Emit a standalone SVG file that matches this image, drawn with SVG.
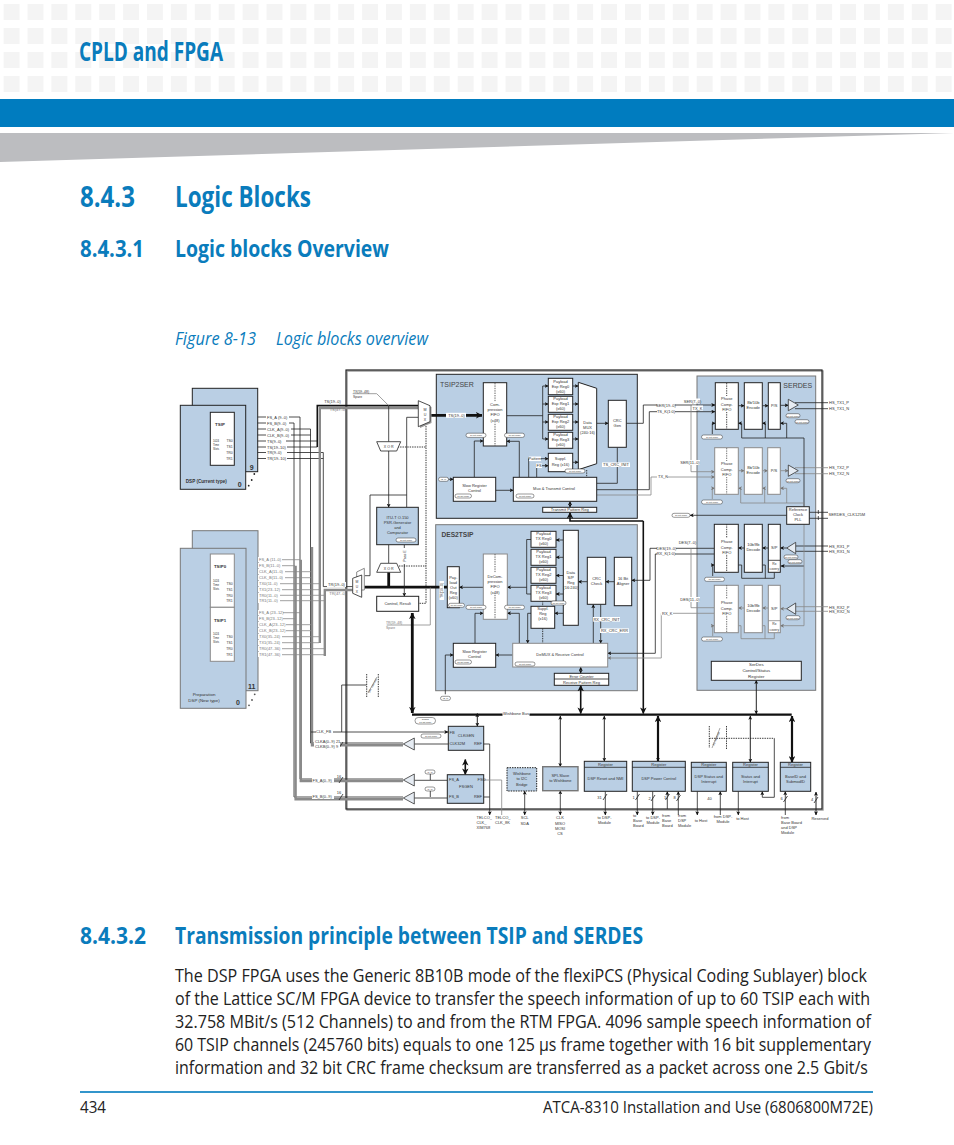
<svg xmlns="http://www.w3.org/2000/svg" width="954" height="1145" viewBox="0 0 954 1145">
<style>
text{font-family:"Liberation Sans",Arial,sans-serif;font-size:4px;fill:#333}
.c{text-anchor:middle}
.h{font-family:"Open Sans","Noto Sans",sans-serif;font-weight:700;fill:#0a7cbc}
.b{font-family:"Open Sans","Noto Sans",sans-serif;font-size:18px;fill:#222}
.i{font-family:"Open Sans","Noto Sans",sans-serif;font-style:italic;font-size:19px;fill:#0a7cbc}
.p{font-size:7px;fill:#444}
.s{font-size:2.4px}
.g{fill:#777}
.w{fill:#fff;stroke:#222;stroke-width:1}
.wg{fill:#fff;stroke:#8a8a8a;stroke-width:1}
.n{fill:#bacfe4;stroke:#222;stroke-width:1}
.ng{fill:#bacfe4;stroke:#777;stroke-width:1}
.l,.k,.m,.lg,.gb,.d,.dk{fill:none}
.l{stroke:#222;stroke-width:.8}
.m{stroke:#111;stroke-width:1.6}
.k{stroke:#111;stroke-width:2.8}
.lg{stroke:#888;stroke-width:.8}
.gb{stroke:#8a8a8a;stroke-width:2.4}
.d{stroke:#222;stroke-width:.9;stroke-dasharray:1.4 1}
.lb{fill:#fff}
.o{fill:#fff;stroke:#333;stroke-width:.5}
.tr{fill:#e6ecf3;stroke:#333;stroke-width:.8}
</style>
<defs>
<pattern id="grid" x="3.6" y="4" width="23.9" height="24" patternUnits="userSpaceOnUse"><rect width="16" height="16" fill="#f4f4f4"/></pattern>
<marker id="a" viewBox="0 0 6 6" refX="5.6" refY="3" markerWidth="4" markerHeight="4" markerUnits="userSpaceOnUse" orient="auto-start-reverse"><path d="M0 0L6 3L0 6L1.6 3z" fill="#111"/></marker>
<marker id="ag" viewBox="0 0 6 6" refX="5.6" refY="3" markerWidth="4" markerHeight="4" markerUnits="userSpaceOnUse" orient="auto-start-reverse"><path d="M0 0L6 3L0 6L1.6 3z" fill="#777"/></marker>
<marker id="A" viewBox="0 0 6 6" refX="5.6" refY="3" markerWidth="6.5" markerHeight="6.5" markerUnits="userSpaceOnUse" orient="auto-start-reverse"><path d="M0 0L6 3L0 6L1.6 3z" fill="#111"/></marker>
</defs>

<g id="page">
<rect x="0" y="4" width="954" height="88" fill="url(#grid)"/>
<text class="h" x="79" y="61" style="font-size:26px" textLength="144" lengthAdjust="spacingAndGlyphs">CPLD and FPGA</text>
<rect x="0" y="99" width="954" height="28" fill="#007cbf"/>
<polygon points="0,133 954,133 0,162" fill="#bcbdc0"/>
<text class="h" x="80" y="207" style="font-size:29px" textLength="55" lengthAdjust="spacingAndGlyphs">8.4.3</text>
<text class="h" x="175" y="207" style="font-size:29px" textLength="136" lengthAdjust="spacingAndGlyphs">Logic Blocks</text>
<text class="h" x="80" y="257" style="font-size:24px" textLength="64" lengthAdjust="spacingAndGlyphs">8.4.3.1</text>
<text class="h" x="175" y="257" style="font-size:24px" textLength="214" lengthAdjust="spacingAndGlyphs">Logic blocks Overview</text>
<text class="i" x="175" y="345" textLength="81" lengthAdjust="spacingAndGlyphs">Figure 8-13</text>
<text class="i" x="276" y="345" textLength="152" lengthAdjust="spacingAndGlyphs">Logic blocks overview</text>
<text class="h" x="80" y="944" style="font-size:24px" textLength="66" lengthAdjust="spacingAndGlyphs">8.4.3.2</text>
<text class="h" x="175" y="944" style="font-size:24px" textLength="468" lengthAdjust="spacingAndGlyphs">Transmission principle between TSIP and SERDES</text>
<text class="b" x="175" y="982" textLength="692" lengthAdjust="spacingAndGlyphs">The DSP FPGA uses the Generic 8B10B mode of the flexiPCS (Physical Coding Sublayer) block</text>
<text class="b" x="175" y="1005" textLength="695" lengthAdjust="spacingAndGlyphs">of the Lattice SC/M FPGA device to transfer the speech information of up to 60 TSIP each with</text>
<text class="b" x="175" y="1028" textLength="696" lengthAdjust="spacingAndGlyphs">32.758 MBit/s (512 Channels) to and from the RTM FPGA. 4096 sample speech information of</text>
<text class="b" x="175" y="1051" textLength="696" lengthAdjust="spacingAndGlyphs">60 TSIP channels (245760 bits) equals to one 125 µs frame together with 16 bit supplementary</text>
<text class="b" x="175" y="1074" textLength="693" lengthAdjust="spacingAndGlyphs">information and 32 bit CRC frame checksum are transferred as a packet across one 2.5 Gbit/s</text>
<rect x="80" y="1091.2" width="793" height="1.6" fill="#007cbf"/>
<text class="b" x="80" y="1113" style="font-size:16px" textLength="26" lengthAdjust="spacingAndGlyphs">434</text>
<text class="b" x="543" y="1113" style="font-size:16px" textLength="330" lengthAdjust="spacingAndGlyphs">ATCA-8310 Installation and Use (6806800M72E)</text>
</g>

<g id="frame">
<rect x="347" y="371" width="476" height="439" fill="none" stroke="#999" stroke-width="1.4"/>
<rect x="346" y="370" width="476" height="439" fill="none" stroke="#222" stroke-width="1.2"/>
</g>
<g id="panel-tsip2ser"><rect class="n" x="436.3" y="374.3" width="201" height="144"/><text class="p" x="440" y="387">TSIP2SER</text></g>
<g id="panel-des2tsip"><rect class="ng" x="435.7" y="524.7" width="201.6" height="166"/><text class="p" x="441.5" y="537" style="font-weight:700;font-size:6.6px">DES2TSIP</text></g>
<g id="panel-serdes"><rect class="ng" x="697" y="376" width="118.7" height="314.3"/><text class="p c" x="797.7" y="388">SERDES</text></g>

<g id="connectors">
<path class="l" d="M234 417H300V779H403"/>
<path class="l" d="M234 423H294V797H403"/>
<path class="l" d="M234 429H310.5V743H403"/>
<path class="l" d="M234 435H310.5"/>
<path class="l" d="M234 441H317.3M234 447H317.3"/>
<path class="l" d="M234 452.5H323.3V586.6H352.7M234 458.5H323.3"/>
<path class="m" d="M317.3 447V405.6H418"/>
<path class="gb" d="M319.8 643V408H418"/>
<path class="gb" d="M300.8 559.7V781H403"/>
<path class="gb" d="M295.6 565.7V799.3H403"/>
<path class="gb" d="M312 547V745.3H403"/>
<path class="gb" d="M324.8 656V590H352.7"/>
<path class="lg" d="M234 559.7H300M234 565.7H295M234 571.7H311M234 577.7H311M234 583.7H319M234 589.7H319M234 595.3H324M234 600.7H324M234 612.7H300M234 618.7H295M234 624.7H311M234 630.7H311M234 636.7H319M234 642.7H319M234 648.7H324M234 654.7H324"/>
<path class="l" d="M311 732H448" marker-end="url(#a)"/>
<path class="l" d="M341.7 732V685H366.5"/>
<path class="d" d="M366.7 674V697M378.3 674V697"/>
<path class="l" style="stroke-width:.4" d="M368 693L377 677"/>
<path class="l" d="M414.3 744H448.3M414.3 780.3H447.3M414.3 798H447.3"/>
<path class="l" d="M430.3 774V780M430.3 791V797"/>
<path class="l" d="M483.7 744H489.7V815" marker-end="url(#a)"/>
<path class="l" d="M483.7 797H489.7"/>
<path class="lg" d="M483.7 780H501.7V815"/>
<path class="l" d="M339 748L343 742M339 783L343 777M339 800L343 794"/>
<path class="lg" d="M352.7 393.7H376.7L388.7 405.6"/>
<path class="l" d="M388.7 405.6V441.7"/>
<path class="l" d="M388.7 451V507.3" marker-end="url(#a)"/>
<path class="l" d="M406.7 507.3V417.3H418.3"/>
<path class="l" d="M406.7 495H370V575.7H364.3"/>
<path class="d" d="M397.7 447H426M426 426V603.3H418.7M399 566H426"/>
<path class="l" d="M388.7 544.7V563.3"/>
<path class="k" d="M388.7 572.3V587"/>
<path class="k" d="M361.7 587.2H447.3"/>
<path class="l" d="M404.3 544.7V596.3" marker-end="url(#a)"/>
<path class="lg" d="M430.3 587.5V625H386.7"/>
<path class="k" d="M412.3 613V713" marker-start="url(#A)" marker-end="url(#A)"/>
<path class="k" d="M430 415.3H482" marker-end="url(#A)"/>
<path class="k" style="stroke-width:2.2" d="M412 714.7H791.7"/>
<path class="l" style="stroke-width:1" d="M477.3 713.5V726.3" marker-start="url(#a)" marker-end="url(#a)"/>
<path class="m" d="M465.3 759.5V774.5" marker-start="url(#A)" marker-end="url(#A)"/>
<path class="l" style="stroke-width:1" d="M560.3 716V766.7" marker-start="url(#a)" marker-end="url(#a)"/>
<path class="l" d="M524.7 791V815" marker-start="url(#a)" marker-end="url(#a)"/>
<path class="l" d="M560.3 790.7V815" marker-start="url(#a)" marker-end="url(#a)"/>
<path class="l" style="stroke-width:1" d="M604.3 716V761.3" marker-start="url(#a)" marker-end="url(#a)"/>
<path class="k" style="stroke-width:2.2" d="M658 716V761.3" marker-start="url(#A)" marker-end="url(#a)"/>
<path class="l" style="stroke-width:1" d="M750.3 716V762.3" marker-start="url(#a)" marker-end="url(#a)"/>
<path class="k" style="stroke-width:2.2" d="M792 716V762.3" marker-start="url(#A)" marker-end="url(#A)"/>
<path class="l" style="stroke-width:1" d="M756.3 680.3V714" marker-start="url(#a)" marker-end="url(#a)"/>
<path class="m" d="M580.7 685.3V713.5" marker-start="url(#A)" marker-end="url(#A)"/>
<path class="m" d="M643.3 521V713.5" marker-end="url(#A)"/>
<path class="m" d="M643.3 521H570V512.5" marker-end="url(#A)"/>
<path class="l" d="M570 501.3V507.3" marker-start="url(#a)" marker-end="url(#a)"/>
<path class="l" d="M580.7 667V673.3" marker-start="url(#a)" marker-end="url(#a)"/>
<path class="d" d="M709.3 738.3H774.3M709.3 726V748M726.5 726V750"/>
<path class="l" d="M774.3 738.3V797.3H762.3V791.5" marker-end="url(#a)"/>
<path class="l" style="stroke-width:.4" d="M712 748L720 728"/>
<path class="l" d="M605.3 791.3V815" marker-end="url(#a)"/>
<path class="l" d="M637.3 791.3V815" marker-end="url(#a)"/>
<path class="l" d="M652.7 791.3V815" marker-end="url(#a)"/>
<path class="l" d="M667.3 809V791.5" marker-end="url(#a)"/>
<path class="l" d="M678.3 815V791.5" marker-end="url(#a)"/>
<path class="l" d="M697.3 791.3V815" marker-end="url(#a)"/>
<path class="l" d="M720.3 815V791.5" marker-end="url(#a)"/>
<path class="l" d="M738.3 791.3V815" marker-end="url(#a)"/>
<path class="l" d="M785.3 815V791.5" marker-end="url(#a)"/>
<path class="l" style="stroke-width:1" d="M816 792V815" marker-start="url(#a)" marker-end="url(#a)"/>
<path class="l" d="M603 800L607 794M635.5 800L639.5 794M651 801L655 795M665.5 800L669.5 794M676.5 801L680.5 795M783.5 802L787.5 796M814 803L818 797"/>
<path class="l" d="M506.7 415.7H542.7M542.7 386V439"/>
<path class="l" d="M542.7 386H548.3" marker-end="url(#a)"/>
<path class="l" d="M542.7 404H548.3" marker-end="url(#a)"/>
<path class="l" d="M542.7 422H548.3" marker-end="url(#a)"/>
<path class="l" d="M542.7 439H548.3" marker-end="url(#a)"/>
<path class="l" d="M572.7 386H578.3" marker-end="url(#a)"/>
<path class="l" d="M572.7 404H578.3" marker-end="url(#a)"/>
<path class="l" d="M572.7 422H578.3" marker-end="url(#a)"/>
<path class="l" d="M572.7 439H578.3" marker-end="url(#a)"/>
<path class="l" d="M572.7 462.3H578.3" marker-end="url(#a)"/>
<path class="l" d="M596.7 423.3H608.3" marker-end="url(#a)"/>
<path class="l" d="M528.7 477.3V458.7H548.3" marker-end="url(#a)"/>
<path class="l" d="M536.7 477.3V465.7H548.3" marker-end="url(#a)"/>
<path class="l" d="M474.3 477.3V441H483.3" marker-end="url(#a)"/>
<path class="l" d="M519.3 477.3V441.3H506.7" marker-end="url(#a)"/>
<path class="l" d="M495.7 490.3H513.3" marker-end="url(#a)"/>
<path class="l" d="M445 479.3H453.3" marker-end="url(#a)"/>
<path class="d" d="M586.7 470V477.3"/>
<path class="l" d="M617.3 447.5V483.3H596.7"/>
<path class="l" d="M626.3 423.3H643.3V405H715" marker-end="url(#a)"/>
<path class="l" d="M596.7 489.7H649.3V411.7H715" marker-end="url(#a)"/>
<path class="lg" d="M596.7 495H651V477H714.7" marker-end="url(#ag)"/>
<path class="lg" d="M691 405V471.7H714.7" marker-end="url(#ag)"/>
<path class="l" d="M714.3 548.3H650V580.3H631.7" marker-end="url(#a)"/>
<path class="l" d="M714.3 554H655.3V653.3H607.7" marker-end="url(#a)"/>
<path class="lg" d="M691 548.3V607.7H714.3"/>
<path class="lg" d="M714.3 613.3H661.3V658H607.7" marker-end="url(#ag)"/>
<path class="l" d="M614.3 581.7H605.7" marker-end="url(#a)"/>
<path class="l" d="M587.3 581.7H578.3" marker-end="url(#a)"/>
<path class="l" d="M563.3 540H556" marker-end="url(#a)"/>
<path class="l" d="M563.3 557.3H556" marker-end="url(#a)"/>
<path class="l" d="M563.3 575.5H556" marker-end="url(#a)"/>
<path class="l" d="M563.3 594H556" marker-end="url(#a)"/>
<path class="l" d="M531 539.5H526.7V594H531"/>
<path class="l" d="M526.7 587.3H507.3" marker-end="url(#a)"/>
<path class="l" d="M483.3 587.3H459.3" marker-end="url(#a)"/>
<path class="l" d="M563.3 613.3H554.7" marker-end="url(#a)"/>
<path class="l" d="M531 613.3H527.7V643.3" marker-end="url(#a)"/>
<path class="d" d="M542.7 601V606.3M542.7 628.3V643.3"/>
<path class="l" d="M512.7 655H495.7" marker-end="url(#a)"/>
<path class="l" d="M445.3 694.3V655H453.3" marker-end="url(#a)"/>
<path class="l" d="M475 643.3V613.3H483.3" marker-end="url(#a)"/>
<path class="l" d="M519.3 643.3V613.3H507.3" marker-end="url(#a)"/>
<path class="l" d="M593.3 643.3V604.5" marker-end="url(#a)"/>
<path class="l" d="M600.7 604.3V643.3" marker-end="url(#a)"/>
<path class="l" d="M738.3 405.7H744.3" marker-end="url(#a)"/>
<path class="l" d="M762.3 405.7H768.3" marker-end="url(#a)"/>
<path class="l" d="M780.3 405.3H788.3" marker-end="url(#a)"/>
<path class="lg" d="M738.3 470.7H744.3" marker-end="url(#ag)"/>
<path class="lg" d="M762.3 470.7H767.7" marker-end="url(#ag)"/>
<path class="lg" d="M780.3 470.7H788.3" marker-end="url(#ag)"/>
<path class="l" d="M795 402.7H828M795 408.7H828"/>
<path class="lg" d="M795 467.7H828M795 473.7H828"/>
<path class="l" d="M712.3 434V423.3H715.3" marker-end="url(#a)"/>
<path class="l" d="M804 506.7V438H741.7V423.3H738.3" marker-end="url(#a)"/>
<path class="l" d="M765.3 438V423.3H762.3" marker-end="url(#a)"/>
<path class="l" d="M786.7 438V423.3H780.3" marker-end="url(#a)"/>
<path class="lg" d="M712.3 499V488.3H714.7" marker-end="url(#ag)"/>
<path class="lg" d="M804 506.7V503H740.7V488.3H738.3" marker-end="url(#ag)"/>
<path class="lg" d="M764.7 503V488.3H762.3" marker-end="url(#ag)"/>
<path class="lg" d="M786.7 503V488.3H780.3" marker-end="url(#ag)"/>
<path class="l" d="M786.7 515.3H690" marker-end="url(#a)"/>
<path class="l" d="M809.3 512.3H828M809.3 518.3H828M818.3 510V514M818.3 516V520"/>
<path class="l" d="M795.7 546H828M795.7 551.3H828"/>
<path class="lg" d="M795.7 606.7H828M795.7 611.3H828"/>
<path class="l" d="M786.7 548H780.3" marker-end="url(#a)"/>
<path class="l" d="M768.3 548H762.3" marker-end="url(#a)"/>
<path class="l" d="M744.3 548H738.3" marker-end="url(#a)"/>
<path class="lg" d="M786.7 608.7H780.3" marker-end="url(#ag)"/>
<path class="lg" d="M768.3 608H762.3" marker-end="url(#ag)"/>
<path class="lg" d="M744.3 608H738.3" marker-end="url(#ag)"/>
<path class="l" d="M712.7 576V565H714.3" marker-end="url(#a)"/>
<path class="l" d="M738.3 565H741.7V578.3H774.3V572.3M762.3 565H765.3V578.3"/>
<path class="l" d="M804 566H781" marker-end="url(#a)"/>
<path class="lg" d="M804 524.3V625.7H780.3" marker-end="url(#ag)"/>
<path class="lg" d="M712.7 636V625.7H714.3" marker-end="url(#ag)"/>
<path class="lg" d="M738.3 625.7H741V638.7H774.3V632.7M762.3 625.7H765V638.7"/>
</g>

<g id="dsp-current">
<rect class="n" x="192.3" y="388.3" width="65.4" height="83.4"/>
<rect class="n" x="180.3" y="405.3" width="65.4" height="84"/>
<rect class="w" x="210.3" y="412.3" width="24" height="53"/>
<text class="c" x="220" y="425.5" style="font-weight:700;font-size:4.4px">TSIP</text>
<text class="c" x="216" y="441.5" style="font-size:2.8px">1024</text><text class="c" x="216" y="445.5" style="font-size:2.8px">Time</text><text class="c" x="216" y="449.5" style="font-size:2.8px">Slots</text>
<text class="c" x="229.5" y="442" style="font-size:3.4px">TS0</text><text class="c" x="229.5" y="448" style="font-size:3.4px">TS1</text><text class="c" x="229.5" y="453.7" style="font-size:3.4px">TR0</text><text class="c" x="229.5" y="460" style="font-size:3.4px">TR1</text>
<text class="c" x="206.3" y="482.5" style="font-weight:700;font-size:4.6px">DSP (Current type)</text>
<text class="c" x="251.7" y="469.5" style="font-weight:700;font-size:7px">9</text>
<text class="c" x="239.7" y="487" style="font-weight:700;font-size:7px">0</text>
<circle cx="254.3" cy="474" r=".9" fill="#222"/><circle cx="251.7" cy="480" r=".9" fill="#222"/><circle cx="248.7" cy="485.7" r=".9" fill="#222"/>
</g>
<g id="dsp-preparation">
<rect class="ng" x="192.3" y="530.7" width="65.7" height="160"/>
<rect class="ng" x="180.3" y="548.3" width="65.7" height="160"/>
<rect class="wg" x="210.3" y="554" width="24" height="53.3"/>
<rect class="wg" x="210.3" y="607.3" width="24" height="54"/>
<text class="c" x="220" y="568" style="font-weight:700;font-size:4.4px">TSIP0</text>
<text class="c" x="220" y="622" style="font-weight:700;font-size:4.4px">TSIP1</text>
<text class="c" x="216" y="581.5" style="font-size:2.8px">1024</text><text class="c" x="216" y="585.5" style="font-size:2.8px">Time</text><text class="c" x="216" y="589.5" style="font-size:2.8px">Slots</text>
<text class="c" x="216" y="635" style="font-size:2.8px">1024</text><text class="c" x="216" y="639" style="font-size:2.8px">Time</text><text class="c" x="216" y="643" style="font-size:2.8px">Slots</text>
<text class="c" x="229.5" y="584.8" style="font-size:3.4px">TS0</text><text class="c" x="229.5" y="590.8" style="font-size:3.4px">TS1</text><text class="c" x="229.5" y="596.5" style="font-size:3.4px">TR0</text><text class="c" x="229.5" y="601.8" style="font-size:3.4px">TR1</text>
<text class="c" x="229.5" y="637.8" style="font-size:3.4px">TS0</text><text class="c" x="229.5" y="643.8" style="font-size:3.4px">TS1</text><text class="c" x="229.5" y="649.8" style="font-size:3.4px">TR0</text><text class="c" x="229.5" y="655.8" style="font-size:3.4px">TR1</text>
<text class="c" x="204" y="695.5" style="font-size:4.4px">Preparation</text>
<text class="c" x="204" y="701.5" style="font-size:4.4px">DSP (New type)</text>
<text class="c" x="251.7" y="688.5" style="font-weight:700;font-size:7px">11</text>
<text class="c" x="238" y="704.5" style="font-weight:700;font-size:7px">0</text>
<circle cx="254.7" cy="694.3" r=".9" fill="#555"/><circle cx="252" cy="700" r=".9" fill="#555"/><circle cx="249" cy="705.3" r=".9" fill="#555"/>
</g>

<g id="mux-top">
<polygon points="420,402 431.5,407 431.5,423 420,428" fill="#999"/>
<polygon class="w" style="stroke-width:.8" points="418.3,400.7 430,405.7 430,421.7 418.3,426.7"/>
<text class="c" x="425" y="410.5" style="font-size:3.6px">M</text><text class="c" x="425" y="415.5" style="font-size:3.6px">U</text><text class="c" x="425" y="420.5" style="font-size:3.6px">X</text>
</g>
<g id="mux-bottom">
<polygon class="wg" points="356.7,572 364.3,568.3 364.3,590 356.7,590"/>
<polygon class="w" style="stroke-width:.8" points="352.7,578.3 361.7,575 361.7,597.3 352.7,593.3"/>
<text class="c" x="357" y="582.5" style="font-size:3.4px">M</text><text class="c" x="357" y="587.5" style="font-size:3.4px">U</text><text class="c" x="357" y="592.5" style="font-size:3.4px">X</text>
</g>
<g id="xor-top"><polygon class="w" style="stroke-width:.8" points="376.7,441.7 400.7,441.7 396.7,451 380.7,451"/><text class="c" x="388.7" y="448" style="font-size:3.6px">X O R</text></g>
<g id="xor-bottom"><polygon class="w" style="stroke-width:.8" points="380.7,563.3 396.7,563.3 400.7,572.3 376.7,572.3"/><text class="c" x="388.7" y="570" style="font-size:3.6px">X O R</text></g>
<g id="itu">
<rect class="n" x="376.7" y="507.3" width="41.6" height="37.4"/>
<text class="c" x="397.5" y="518.5">ITU-T O.150</text><text class="c" x="397.5" y="523.5">PSR-Generator</text><text class="c" x="397.5" y="529">and</text><text class="c" x="397.5" y="534">Comparator</text>
<rect class="o" x="396" y="538" width="20" height="4" rx="2"/><text class="c s" x="406" y="540.8">16 bit Wide</text>
</g>
<g id="control-result"><rect class="w" x="376.7" y="596.3" width="42" height="15"/><text class="c" x="397.7" y="604.5">Control, Result</text></g>

<g id="fifo-comp">
<rect class="w" x="483.3" y="382.7" width="23.4" height="63.3"/>
<path class="d" d="M495 383V446" style="stroke:#555"/>
<rect class="lb" x="486" y="401.5" width="18" height="21"/>
<text class="c" x="495" y="405.5">Com-</text><text class="c" x="495" y="410.8">pression</text><text class="c" x="495" y="416.2">FIFO</text><text class="c" x="495" y="421.5">(x48)</text>
</g>
<g id="payload-exp">
<rect class="w" x="548.3" y="378.3" width="24.4" height="16.4"/><text class="c" x="560.5" y="382.5">Payload</text><text class="c" x="560.5" y="387.5">Exp Reg0</text><text class="c" x="560.5" y="392.5">(x60)</text>
<rect class="w" x="548.3" y="396.3" width="24.4" height="16"/><text class="c" x="560.5" y="400.3">Payload</text><text class="c" x="560.5" y="405.3">Exp Reg1</text><text class="c" x="560.5" y="410.3">(x60)</text>
<rect class="w" x="548.3" y="414.3" width="24.4" height="16"/><text class="c" x="560.5" y="418.3">Payload</text><text class="c" x="560.5" y="423.3">Exp Reg2</text><text class="c" x="560.5" y="428.3">(x60)</text>
<rect class="w" x="548.3" y="432.3" width="24.4" height="16"/><text class="c" x="560.5" y="436.3">Payload</text><text class="c" x="560.5" y="441.3">Exp Reg3</text><text class="c" x="560.5" y="446.3">(x60)</text>
</g>
<g id="suppl-tx"><rect class="w" x="548.3" y="453.3" width="24.4" height="18.4"/><text class="c" x="560.5" y="460">Suppl.</text><text class="c" x="560.5" y="465.5">Reg (x16)</text></g>
<g id="data-mux"><polygon class="w" points="578.3,382.3 596.7,388.3 596.7,463.7 578.3,469.7"/><text class="c" x="587.5" y="424">Data</text><text class="c" x="587.5" y="429">MUX</text><text class="c" x="587.5" y="434">(240:16)</text></g>
<g id="crc-gen"><rect class="w" x="608.3" y="400.3" width="18" height="47"/><text class="c" x="617.3" y="422">CRC</text><text class="c" x="617.3" y="427">Gen</text></g>
<g id="slow-tx"><rect class="w" x="453.3" y="477.3" width="42.4" height="24"/><text class="c" x="474.5" y="486.5">Slow Register</text><text class="c" x="474.5" y="492">Control</text></g>
<g id="mux-transmit"><rect class="w" x="513.3" y="477.3" width="83.4" height="24"/><text class="c" x="554" y="489.5">Mux &amp; Transmit Control</text></g>
<g id="tx-pattern"><rect class="w" x="542.7" y="507.3" width="54" height="5"/><text class="c" x="569.7" y="511.3">Transmit Pattern Reg</text></g>

<g id="fifo-decomp">
<rect class="wg" x="483.3" y="554" width="24" height="65.3"/>
<path class="d" d="M495 554V619" style="stroke:#555"/>
<rect class="lb" x="486" y="572.5" width="18" height="21"/>
<text class="c" x="495" y="578">DeCom-</text><text class="c" x="495" y="583">pression</text><text class="c" x="495" y="588">FIFO</text><text class="c" x="495" y="593.5">(x48)</text>
</g>
<g id="payload-out"><rect class="w" x="447.3" y="566.7" width="12" height="41"/><text class="c" x="453.3" y="578.5">Pay-</text><text class="c" x="453.3" y="583.5">load</text><text class="c" x="453.3" y="588.5">Out</text><text class="c" x="453.3" y="593.8">Reg</text><text class="c" x="453.3" y="598.8">(x60)</text></g>
<g id="payload-tx">
<rect class="w" x="531" y="531.3" width="25" height="16"/><text class="c" x="543.5" y="535">Payload</text><text class="c" x="543.5" y="540">TX Reg0</text><text class="c" x="543.5" y="545">(x60)</text>
<rect class="w" x="531" y="549.3" width="25" height="16"/><text class="c" x="543.5" y="553">Payload</text><text class="c" x="543.5" y="558">TX Reg1</text><text class="c" x="543.5" y="563">(x60)</text>
<rect class="w" x="531" y="567.3" width="25" height="16"/><text class="c" x="543.5" y="571">Payload</text><text class="c" x="543.5" y="576">TX Reg2</text><text class="c" x="543.5" y="581">(x60)</text>
<rect class="w" x="531" y="585.3" width="25" height="16"/><text class="c" x="543.5" y="589">Payload</text><text class="c" x="543.5" y="594">TX Reg3</text><text class="c" x="543.5" y="599">(x60)</text>
</g>
<g id="suppl-rx"><rect class="w" x="531" y="606.3" width="23.7" height="22"/><text class="c" x="542.8" y="609.5">Suppl.</text><text class="c" x="542.8" y="614.5">Reg</text><text class="c" x="542.8" y="619.5">(x16)</text></g>
<g id="data-sp"><rect class="w" x="563.3" y="530.3" width="15" height="95"/><text class="c" x="570.8" y="573.5">Data</text><text class="c" x="570.8" y="578.5">S/P</text><text class="c" x="570.8" y="583.5">Reg</text><text class="c" x="570.8" y="588.5">(16:240)</text></g>
<g id="crc-check"><rect class="w" x="587.3" y="557.3" width="18.4" height="47"/><text class="c" x="596.5" y="579.5">CRC</text><text class="c" x="596.5" y="584.5">Check</text></g>
<g id="aligner"><rect class="w" x="614.3" y="557.3" width="17.4" height="48.4"/><text class="c" x="623" y="579.5">16 Bit</text><text class="c" x="623" y="584.5">Aligner</text></g>
<g id="slow-rx"><rect class="w" x="453.3" y="643.3" width="42.4" height="24"/><text class="c" x="474.5" y="653">Slow Register</text><text class="c" x="474.5" y="658">Control</text></g>
<g id="demux"><rect class="wg" x="512.7" y="643.3" width="95" height="23.7"/><text class="c" x="560" y="655.5">DeMUX &amp; Receive Control</text></g>
<g id="error-counter"><rect class="w" x="554.3" y="673.3" width="54.4" height="12"/><path class="l" d="M554.3 679H608.7"/><text class="c" x="581.5" y="677.8">Error Counter</text><text class="c" x="581.5" y="683.7">Receive Pattern Reg</text></g>

<g id="fifo-1"><rect class="w" x="715.3" y="382.7" width="23" height="46.6"/><path class="d" d="M726.7 383V429" style="stroke:#333"/><rect class="lb" x="718" y="396" width="18" height="16"/><text class="c" x="726.7" y="400">Phase</text><text class="c" x="726.7" y="405.5">Comp.</text><text class="c" x="726.7" y="411">FIFO</text></g>
<g id="enc-1"><rect class="w" x="744.3" y="382.7" width="18" height="46.6"/><text class="c" x="753.3" y="403.5">8b/10b</text><text class="c" x="753.3" y="408.5">Encode</text></g>
<g id="ps-1"><rect class="w" x="768.3" y="382.7" width="12" height="46.6"/><text class="c" x="774.3" y="406.5">P/S</text></g>
<g id="drv-1"><polygon class="tr" points="788.3,399.3 798.3,405 788.3,410.7"/></g>
<g id="fifo-2"><rect class="wg" x="714.7" y="447.7" width="23.6" height="46.6"/><path class="d" d="M726.7 448V494" style="stroke:#666"/><rect class="lb" x="718" y="461" width="18" height="16"/><text class="c" x="726.7" y="465">Phase</text><text class="c" x="726.7" y="470.5">Comp.</text><text class="c" x="726.7" y="476">FIFO</text></g>
<g id="enc-2"><rect class="wg" x="744.3" y="447.7" width="18" height="46.6"/><text class="c" x="753.3" y="468.5">8b/10b</text><text class="c" x="753.3" y="473.5">Encode</text></g>
<g id="ps-2"><rect class="wg" x="767.7" y="447.7" width="12.6" height="46.6"/><text class="c" x="774" y="471.5">P/S</text></g>
<g id="drv-2"><polygon class="tr" points="788.3,465 798.3,470.7 788.3,476.3"/></g>
<g id="pll"><rect class="w" x="786.7" y="506.7" width="22.6" height="17.6"/><text class="c" x="798" y="511">Reference</text><text class="c" x="798" y="516">Clock</text><text class="c" x="798" y="521">PLL</text></g>
<g id="fifo-3"><rect class="w" x="714.3" y="524.3" width="24" height="48"/><path class="d" d="M726.7 524V572" style="stroke:#333"/><rect class="lb" x="718" y="538" width="18" height="16"/><text class="c" x="726.7" y="543">Phase</text><text class="c" x="726.7" y="548.5">Comp.</text><text class="c" x="726.7" y="554">FIFO</text></g>
<g id="dec-3"><rect class="w" x="744.3" y="524.3" width="18" height="48"/><text class="c" x="753.3" y="546">10b/8b</text><text class="c" x="753.3" y="551">Decode</text></g>
<g id="sp-3"><rect class="w" x="768.3" y="524.3" width="12" height="48"/><path class="l" d="M768.3 560.3H780.3"/><text class="c" x="774.3" y="548.8">S/P</text><text class="c" x="774.3" y="564.5" style="font-size:3.4px">Rx</text><text class="c" x="774.3" y="570.3" style="font-size:3.2px">covery</text></g>
<g id="rcv-3"><polygon class="tr" points="786.7,548 795.7,542.3 795.7,553.7"/></g>
<g id="fifo-4"><rect class="wg" x="714.3" y="585.3" width="24" height="47.4"/><path class="d" d="M726.7 585V632" style="stroke:#666"/><rect class="lb" x="718" y="599" width="18" height="16"/><text class="c" x="726.7" y="604">Phase</text><text class="c" x="726.7" y="609.5">Comp.</text><text class="c" x="726.7" y="615">FIFO</text></g>
<g id="dec-4"><rect class="wg" x="744.3" y="585.3" width="18" height="47.4"/><text class="c" x="753.3" y="606.5">10b/8b</text><text class="c" x="753.3" y="611.5">Decode</text></g>
<g id="sp-4"><rect class="wg" x="768.3" y="585.3" width="12" height="47.4"/><path class="lg" d="M768.3 620.7H780.3"/><text class="c" x="774.3" y="609.8">S/P</text><text class="c" x="774.3" y="625" style="font-size:3.4px">Rx</text><text class="c" x="774.3" y="630.5" style="font-size:3.2px">covery</text></g>
<g id="rcv-4"><polygon class="tr" points="786.7,608.7 795.7,603 795.7,614.3"/></g>
<g id="serdes-ctl"><rect class="w" x="711.3" y="661.3" width="90" height="19"/><text class="c" x="756.3" y="665.5" style="font-size:4.4px">SerDes</text><text class="c" x="756.3" y="671.5" style="font-size:4.4px">Control/Status</text><text class="c" x="756.3" y="677.5" style="font-size:4.4px">Register</text></g>

<g id="clkgen"><rect class="n" x="448.3" y="726.3" width="35.4" height="24"/><text x="449.5" y="733.5">FB</text><text class="c" x="466" y="737">CLKGEN</text><text x="449.5" y="745">CLK32M</text><text x="474" y="745">REF</text></g>
<g id="fsgen"><rect class="n" x="447.3" y="774.7" width="36.4" height="28.6"/><text x="449" y="781">FS_A</text><text class="c" x="466" y="787.5">FSGEN</text><text x="449" y="798">FS_B</text><text x="477.5" y="781">FSO</text><text x="474" y="798">REF</text></g>
<g id="buf-clk"><polygon class="tr" points="403.3,744 414.3,738 414.3,750"/></g>
<g id="buf-fsa"><polygon class="tr" points="403.3,780 414.3,774 414.3,786"/></g>
<g id="buf-fsb"><polygon class="tr" points="403.3,798 414.3,792 414.3,804"/></g>
<g id="i2c"><rect class="n" x="507" y="767.7" width="29.7" height="23.3" style="stroke-dasharray:1.5 1"/><text class="c" x="521.8" y="775">Wishbone</text><text class="c" x="521.8" y="780">to I2C</text><text class="c" x="521.8" y="785.5">Bridge</text></g>
<g id="spi"><rect class="ng" x="542.7" y="766.7" width="35.3" height="24" style="stroke-width:1.4"/><text class="c" x="560.3" y="776.5">SPI-Slave</text><text class="c" x="560.3" y="782">to Wishbone</text></g>
<g id="reg-reset"><rect class="n" x="584.3" y="761.3" width="42.4" height="30"/><path class="l" d="M584.3 767.3H626.7"/><text class="c" x="605.5" y="765.5">Register</text><text class="c" x="605.5" y="779.7">DSP Reset and NMI</text></g>
<g id="reg-power"><rect class="n" x="632.3" y="761.3" width="53" height="30"/><path class="l" d="M632.3 767.3H685.3"/><text class="c" x="658.8" y="765.5">Register</text><text class="c" x="658.8" y="779.7">DSP Power Control</text></g>
<g id="reg-status"><rect class="n" x="691.3" y="762.3" width="35" height="29"/><path class="l" d="M691.3 767.3H726.3"/><text class="c" x="708.8" y="766">Register</text><text class="c" x="708.8" y="777.7">DSP Status and</text><text class="c" x="708.8" y="782.7">Interrupt</text></g>
<g id="reg-int"><rect class="n" x="732.7" y="762.3" width="35.6" height="29"/><path class="l" d="M732.7 767.3H768.3"/><text class="c" x="750.5" y="766">Register</text><text class="c" x="750.5" y="777.7">Status and</text><text class="c" x="750.5" y="782.7">Interrupt</text></g>
<g id="reg-base"><rect class="n" x="780.3" y="762.3" width="30.4" height="29"/><path class="l" d="M780.3 767.3H810.7"/><text class="c" x="795.5" y="766">Register</text><text class="c" x="795.5" y="777.7">BaseID and</text><text class="c" x="795.5" y="782.7">SubmodID</text></g>

<g id="labels">
<g fill="#fff">
<rect x="266" y="414.5" width="23" height="5"/><rect x="266" y="420.5" width="23" height="5"/><rect x="266" y="426.5" width="25" height="5"/><rect x="266" y="432.5" width="25" height="5"/><rect x="266" y="438.5" width="20" height="5"/><rect x="266" y="444.5" width="21" height="5"/><rect x="266" y="450" width="21" height="5"/><rect x="266" y="456" width="21" height="5"/>
<rect x="258" y="557" width="24" height="5"/><rect x="258" y="563" width="24" height="5"/><rect x="258" y="569" width="27" height="5"/><rect x="258" y="575" width="27" height="5"/><rect x="258" y="581" width="22" height="5"/><rect x="258" y="587" width="24" height="5"/><rect x="258" y="593" width="22" height="5"/><rect x="258" y="598" width="22" height="5"/>
<rect x="258" y="610" width="25" height="5"/><rect x="258" y="616" width="25" height="5"/><rect x="258" y="622" width="28" height="5"/><rect x="258" y="628" width="28" height="5"/><rect x="258" y="634" width="24" height="5"/><rect x="258" y="640" width="24" height="5"/><rect x="258" y="646" width="24" height="5"/><rect x="258" y="652" width="24" height="5"/>
<rect x="327" y="582" width="19" height="5"/><rect x="312" y="777.5" width="22" height="5"/><rect x="312" y="794" width="22" height="5"/><rect x="316" y="729.5" width="17" height="5"/><rect x="314" y="739" width="26" height="9"/>
<rect x="446" y="412.8" width="20" height="5"/><rect x="529" y="456.5" width="12" height="4.6"/><rect x="536" y="463.4" width="6" height="4.6"/><rect x="602" y="462.4" width="28" height="4.6"/>
<rect x="657" y="402.5" width="18" height="5"/><rect x="657" y="409" width="18" height="5"/><rect x="657" y="474.5" width="10" height="5"/><rect x="657" y="545.5" width="19" height="5"/><rect x="657" y="551" width="18" height="5"/><rect x="661" y="610.3" width="12" height="5"/>
<rect x="685" y="398.5" width="15" height="5"/><rect x="692" y="405.5" width="11" height="5"/><rect x="680" y="460" width="20" height="5"/><rect x="680" y="539.5" width="15" height="5"/><rect x="680" y="597" width="20" height="5"/>
<rect x="593" y="617" width="27" height="4.6"/><rect x="600" y="628.4" width="29" height="4.6"/>
<rect x="439.5" y="581" width="4.5" height="19"/><rect x="402" y="548" width="5" height="16"/><rect x="502.5" y="711" width="27" height="5.5"/>
</g>
<text x="267" y="418.5">FS_A (9..0)</text><text x="267" y="424.5">FS_B(9..0)</text><text x="267" y="430.5">CLK_A(9..0)</text><text x="267" y="436.5">CLK_B(9..0)</text><text x="267" y="442.5">TS(9..0)</text><text x="267" y="448.5">TS(19..10)</text><text x="267" y="454">TR(9..0)</text><text x="267" y="460">TR(19..10)</text>
<text class="g" x="259" y="561">FS_A (11..0)</text><text class="g" x="259" y="567">FS_B(11..0)</text><text class="g" x="259" y="573">CLK_A(11..0)</text><text class="g" x="259" y="579">CLK_B(11..0)</text><text class="g" x="259" y="585">TX0(11..0)</text><text class="g" x="259" y="591">TX1(23..12)</text><text class="g" x="259" y="597">TR0(11..0)</text><text class="g" x="259" y="602">TR1(11..0)</text>
<text class="g" x="259" y="614">FS_A (23..12)</text><text class="g" x="259" y="620">FS_B(23..12)</text><text class="g" x="259" y="626">CLK_A(23..12)</text><text class="g" x="259" y="632">CLK_B(23..12)</text><text class="g" x="259" y="638">TX0(35..24)</text><text class="g" x="259" y="644">TX1(35..24)</text><text class="g" x="259" y="650">TR0(47..36)</text><text class="g" x="259" y="656">TR1(47..36)</text>
<text class="c" x="332.5" y="402.5">TS(19..0)</text><text class="c g" x="338" y="410.5">TS(47..0)</text>
<text x="353" y="392.5" style="font-size:3.4px">TX(59..48)</text><text x="353" y="397.5" style="font-size:3.4px">Spare</text>
<text class="c" x="336.5" y="586">TR(19..0)</text><text class="c g" x="337.7" y="595">TR(47..0)</text>
<text x="386" y="623.5" class="g" style="font-size:3.4px">TR(59..48)</text><text x="386" y="628.5" class="g" style="font-size:3.4px">Spare</text>
<text class="c" transform="translate(405.7 556) rotate(-90)" style="font-size:3.6px">Pass E</text>
<text class="c" transform="translate(443 590.5) rotate(-90)" style="font-size:3.6px">TR(19..0)</text>
<text class="c" transform="translate(373.5 686) rotate(-62)" style="font-size:2.8px">SPI Interrupt</text>
<text class="c" transform="translate(717 739) rotate(-68)" style="font-size:2.8px">IIC Interrupt</text>
<text x="316" y="733.3">CLK_FB</text><text x="315" y="742.7">CLKA(0..9) 21</text><text x="315" y="747.7">CLKB(0..9) 9</text>
<text x="312.5" y="781.5">FS_A(0..9)</text><text x="312.5" y="798">FS_B(0..9)</text><text class="c" x="339" y="777.5">16</text><text class="c" x="339" y="793.5">16</text>
<text class="c" x="516" y="715.2">Wishbone Bus</text>
<text x="476.5" y="819">TELCO_</text><text x="476.5" y="824">CLK_</text><text x="476.5" y="829">XIM768</text><text x="495" y="819">TELCO_</text><text x="495" y="824">CLK_8K</text>
<text class="c" x="524.7" y="819">SCL</text><text class="c" x="524.7" y="825">SDA</text>
<text class="c" x="560" y="819">CLK</text><text class="c" x="560" y="825">MISO</text><text class="c" x="560" y="830">MOSI</text><text class="c" x="560" y="835">CS</text>
<text class="c" x="604.5" y="819">to DSP-</text><text class="c" x="604.5" y="824">Module</text>
<text x="633" y="817">to</text><text x="633" y="822">Base</text><text x="633" y="827">Board</text>
<text class="c" x="653" y="819">to DSP-</text><text class="c" x="653" y="824">Module</text>
<text x="662" y="817">from</text><text x="662" y="822">Base</text><text x="662" y="827">Board</text>
<text x="678" y="817">from</text><text x="678" y="822">DSP</text><text x="678" y="827">Module</text>
<text class="c" x="701" y="822">to Host</text>
<text class="c" x="723" y="818">from DSP-</text><text class="c" x="723" y="823">Module</text>
<text class="c" x="742.5" y="820">to Host</text>
<text x="781" y="819">from</text><text x="781" y="824">Base Board</text><text x="781" y="829">and DSP</text><text x="781" y="834">Module</text>
<text class="c" x="820" y="820">Reserved</text>
<text class="c" x="599.5" y="799">31</text><text class="c" x="633.5" y="799">1</text><text class="c" x="649.5" y="800">2</text><text class="c" x="665" y="799">1</text><text class="c" x="674.5" y="799">8</text><text class="c" x="709.5" y="800">40</text><text class="c" x="781.5" y="800">6</text><text class="c" x="812" y="801">4</text>
<text class="c" x="456.5" y="416.8">TS(19..0)</text>
<text class="c" x="535" y="460">Pattern</text><text class="c" x="539" y="466.8">FS</text><text class="c" x="616" y="466">TS_CRC_INIT</text>
<text class="c" x="666" y="406.5">SER(19..0)</text><text class="c" x="666" y="413">TS_K(1:0)</text><text x="658" y="478.2">TX_K</text>
<text class="c" x="666.5" y="549.8">DES(19..0)</text><text class="c" x="666" y="555">RX_K(1:0)</text><text x="662" y="614.5">RX_K</text>
<text class="c" x="692.5" y="402.5">SER(7..0)</text><text class="c" x="697.5" y="409.5">TX_K</text><text class="c" x="690" y="464">SER(11..0)</text><text class="c" x="687.5" y="543.5">DES(7..0)</text><text class="c" x="690" y="601">DES(11..0)</text>
<text class="c" x="606.5" y="620.6">RX_CRC_INIT</text><text class="c" x="614.5" y="632">RX_CRC_ERR</text>
<text x="829" y="404">HS_TX1_P</text><text x="829" y="410">HS_TX1_N</text><text x="829" y="469">HS_TX2_P</text><text x="829" y="475">HS_TX2_N</text>
<text x="828.5" y="516">SERDES_CLK125M</text>
<text x="829" y="547.5">HS_RX1_P</text><text x="829" y="553">HS_RX1_N</text><text x="829" y="608.5">HS_RX2_P</text><text x="829" y="613">HS_RX2_N</text>
</g>

<g id="ovals">
<rect class="o" x="466" y="433.2" width="20" height="4.2" rx="2.1"/><text class="c s" x="476" y="436.1">16 bit Wide</text>
<rect class="o" x="504.5" y="433.2" width="20" height="4.2" rx="2.1"/><text class="c s" x="514.5" y="436.1">16 bit Wide</text>
<rect class="o" x="438.5" y="477.3" width="10" height="4" rx="2"/><text class="c s" x="443.5" y="480">(2..0)</text>
<rect class="o" x="455" y="494" width="16.5" height="4" rx="2"/><text class="c s" x="463.2" y="496.8">16 bit Wide</text>
<rect class="o" x="516" y="494" width="18" height="4" rx="2"/><text class="c s" x="525" y="496.8">16 bit Wide</text>
<rect class="o" x="565" y="469" width="20" height="4" rx="2"/><text class="c s" x="575" y="471.8">16 bit Wide</text>
<rect class="o" x="672" y="513.3" width="18" height="4" rx="2"/><text class="c s" x="681" y="516.1">16 bit Wide</text>
<rect class="o" x="448.5" y="603.3" width="16" height="4" rx="2"/><text class="c s" x="456.5" y="606.1">16 bit Wide</text>
<rect class="o" x="466" y="605.3" width="20" height="4" rx="2"/><text class="c s" x="476" y="608.1">16 bit Wide</text>
<rect class="o" x="504.5" y="605.3" width="20" height="4" rx="2"/><text class="c s" x="514.5" y="608.1">16 bit Wide</text>
<rect class="o" x="551" y="601" width="15" height="4" rx="2"/><text class="c s" x="558.5" y="603.8">16 bit Wide</text>
<rect class="o" x="455" y="660" width="16.5" height="4" rx="2"/><text class="c s" x="463.2" y="662.8">16 bit Wide</text>
<rect class="o" x="515" y="662" width="20" height="4" rx="2"/><text class="c s" x="525" y="664.8">16 bit Wide</text>
<rect class="o" x="440.5" y="696.3" width="10" height="4" rx="2"/><text class="c s" x="445.5" y="699.1">(2..0)</text>
<rect class="o" x="701.5" y="435" width="21" height="4" rx="2"/><text class="c s" x="712" y="437.8">16 bit Wide</text>
<rect class="o" x="701.5" y="500" width="21" height="4" rx="2"/><text class="c s" x="712" y="502.8">16 bit Wide</text>
<rect class="o" x="786" y="413.7" width="14" height="4" rx="2"/><text class="c s" x="793" y="416.5">16 bit Wide</text>
<rect class="o" x="795" y="419.7" width="14" height="4" rx="2"/><text class="c s" x="802" y="422.5">16 bit Wide</text>
<rect class="o" x="786" y="478.7" width="14" height="4" rx="2"/><text class="c s" x="793" y="481.5">16 bit Wide</text>
<rect class="o" x="784" y="555" width="14" height="4" rx="2"/><text class="c s" x="791" y="557.8">16 bit Wide</text>
<rect class="o" x="788" y="559.7" width="14" height="4" rx="2"/><text class="c s" x="795" y="562.5">16 bit Wide</text>
<rect class="o" x="704.5" y="577.3" width="20" height="4" rx="2"/><text class="c s" x="714.5" y="580.1">16 bit Wide</text>
<rect class="o" x="786" y="615.7" width="14" height="4" rx="2"/><text class="c s" x="793" y="618.5">16 bit Wide</text>
<rect class="o" x="701.5" y="637" width="21" height="4" rx="2"/><text class="c s" x="712" y="639.8">16 bit Wide</text>
<rect class="o" x="415" y="717.5" width="20.5" height="6.5" rx="3.2"/><text class="c s" x="425.3" y="720.3">Global</text><text class="c s" x="425.3" y="723">16 bit Wide</text>
<rect class="o" x="421" y="734" width="20" height="4" rx="2"/><text class="c s" x="431" y="736.8">16 bit Wide</text>
<rect class="o" x="425" y="770" width="10" height="4" rx="2"/><text class="c s" x="430" y="772.8">(1..0)</text>
<rect class="o" x="425" y="787" width="10" height="4" rx="2"/><text class="c s" x="430" y="789.8">(1..0)</text>
</g>
</svg>
